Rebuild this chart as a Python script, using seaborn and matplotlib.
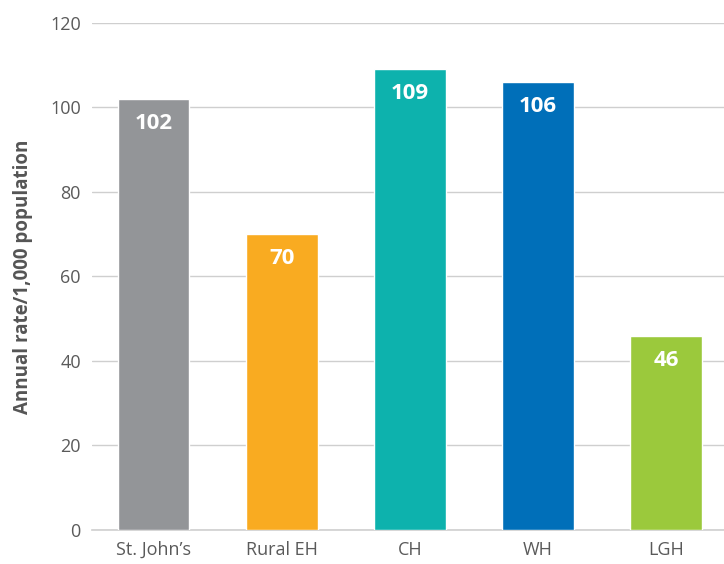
import matplotlib
matplotlib.use("Agg")
import matplotlib.pyplot as plt
import seaborn as sns

# Data
regions = ["St. John\u2019s", "Rural EH", "CH", "WH", "LGH"]
rates = [102, 70, 109, 106, 46]
colors = ["#939598", "#F9AB21", "#0DB2AD", "#006FB9", "#9BC93C"]

sns.set_style("white")
plt.rcParams["font.family"] = ["Open Sans", "DejaVu Sans"]

fig = plt.figure(figsize=(7.24, 5.64), dpi=100)
ax = fig.add_axes([0.127, 0.0603, 0.873, 0.899])

sns.barplot(x=regions, y=rates, hue=regions, palette=colors, width=0.56,
            legend=False, saturation=1, ax=ax, zorder=3)

ax.set_ylim(0, 120)
ax.set_yticks(range(0, 121, 20))
ax.set_xlim(-0.48, 4.45)
ax.yaxis.grid(True, color="#CFCFCF", linewidth=1, zorder=0)
ax.set_axisbelow(True)

for s in ["top", "right", "left"]:
    ax.spines[s].set_visible(False)
ax.spines["bottom"].set_color("#CFCFCF")
ax.spines["bottom"].set_linewidth(1.2)

ax.tick_params(axis="both", length=0, labelsize=13, labelcolor="#5A5A5A", pad=8)
ax.set_ylabel("Annual rate/1,000 population", fontsize=13.5, fontweight="bold",
              color="#555555", labelpad=12)
ax.set_xlabel("")

for i, v in enumerate(rates):
    ax.text(i, v - 3.3, str(v), ha="center", va="top", color="white",
            fontsize=16, fontweight="bold")

fig.savefig("out.png", dpi=100)
